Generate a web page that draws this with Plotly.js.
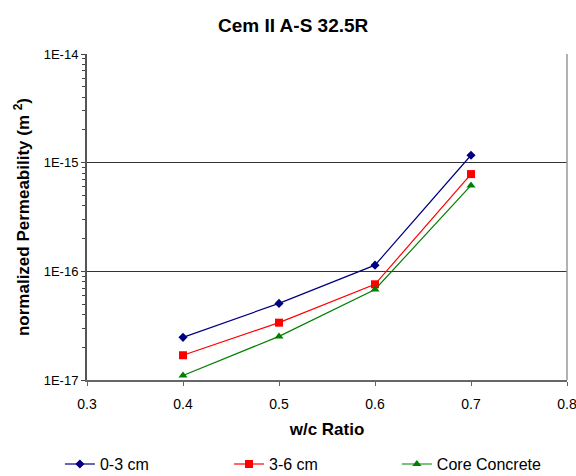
<!DOCTYPE html>
<html>
<head>
<meta charset="utf-8">
<script src="https://cdn.plot.ly/plotly-3.0.1.min.js"></script>
<style>html,body{margin:0;padding:0;background:#fff;}#chart{width:576px;height:476px;}</style>
</head>
<body>
<div id="chart"></div>
<script>
const wcRatio = [0.4, 0.5, 0.6, 0.7];
const perm_0_3 = [2.47e-17, 5.07e-17, 1.14e-16, 1.17e-15];
const perm_3_6 = [1.69e-17, 3.37e-17, 7.6e-17, 7.85e-16];
const perm_core = [1.1e-17, 2.52e-17, 6.8e-17, 6.18e-16];
const seriesNames = ['0-3 cm', '3-6 cm', 'Core Concrete'];
const yTickVals = [1e-17, 1e-16, 1e-15, 1e-14];
const yTickText = ['1E-17', '1E-16', '1E-15', '1E-14'];
const xTickVals = [0.3, 0.4, 0.5, 0.6, 0.7, 0.8];

const minorVals = [];
[-17, -16, -15].forEach(function(e){ for (let k = 2; k <= 9; k++) minorVals.push(k * Math.pow(10, e)); });

const font = 'Arial, "Liberation Sans", sans-serif';
function tr(y, name, color, symbol, size, legend) {
  return {x: wcRatio, y: y, name: name, type: 'scatter', mode: 'lines+markers', legend: legend,
    line: {color: color, width: 1.2}, marker: {color: color, symbol: symbol, size: size}};
}
const data = [
  tr(perm_0_3, seriesNames[0], '#000080', 'diamond', 7, 'legend'),
  tr(perm_3_6, seriesNames[1], '#FF0000', 'square', 8, 'legend2'),
  tr(perm_core, seriesNames[2], '#008000', 'triangle-up', 8, 'legend3')
];
function leg(x) {
  return {orientation: 'h', xref: 'container', yref: 'container', x: x, xanchor: 'left', y: 0.025, yanchor: 'middle',
    font: {size: 16}, bgcolor: 'rgba(0,0,0,0)', borderwidth: 0};
}
const layout = {
  width: 576, height: 476,
  margin: {l: 87, r: 9, t: 54, b: 96},
  paper_bgcolor: '#fff', plot_bgcolor: '#fff',
  font: {family: font, size: 13, color: '#000'},
  title: {text: '<b>Cem II A-S 32.5R</b>', font: {size: 19, family: font}, x: 0.509, xanchor: 'center', y: 0.947, yanchor: 'middle'},
  showlegend: true,
  legend: leg(0.104),
  legend2: leg(0.3976),
  legend3: leg(0.689),
  xaxis: {range: [0.3, 0.8], tickmode: 'array', tickvals: xTickVals, ticktext: xTickVals.map(v => v.toFixed(1)),
    ticks: 'outside', ticklen: 4, tickcolor: '#666', showline: true, linecolor: '#666', linewidth: 2,
    showgrid: false, zeroline: false, tickfont: {size: 14}, ticklabelstandoff: 6, ticklabeloverflow: 'allow',
    automargin: false,
    title: {text: '<b>w/c Ratio</b>', font: {size: 17}, standoff: 12}},
  yaxis: {type: 'log', range: [-17, -14], tickmode: 'array', tickvals: yTickVals, ticktext: yTickText,
    ticks: 'outside', ticklen: 4, tickcolor: '#444', showline: true, linecolor: '#555', linewidth: 2,
    showgrid: true, gridcolor: '#333', gridwidth: 1, zeroline: false, tickfont: {size: 13},
    automargin: false,
    minor: {tickmode: 'array', tickvals: minorVals, ticks: 'outside', ticklen: 3, tickcolor: '#444', showgrid: false},
    title: {text: '<b>normalized Permeability (m <sup>2</sup>)</b>', font: {size: 17}, standoff: 10}},
  shapes: [
    {type: 'line', xref: 'paper', yref: 'paper', x0: 1, x1: 1, y0: 0, y1: 1, line: {color: '#999', width: 1.5}}
  ]
};
Plotly.newPlot('chart', data, layout, {staticPlot: true, displayModeBar: false});
</script>
</body>
</html>
